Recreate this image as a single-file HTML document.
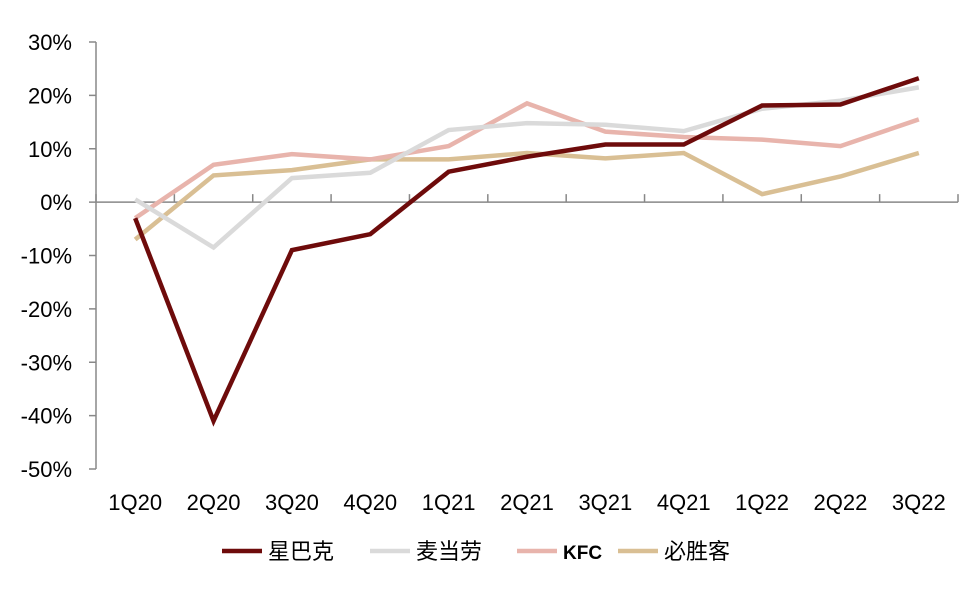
<!DOCTYPE html>
<html><head><meta charset="utf-8">
<style>
html,body{margin:0;padding:0;background:#fff;}
svg{display:block;font-family:"Liberation Sans","Noto Sans CJK SC",sans-serif;}
</style></head>
<body>
<svg id="chart" width="971" height="591" viewBox="0 0 971 591"></svg>
<script>
const categories=["1Q20","2Q20","3Q20","4Q20","1Q21","2Q21","3Q21","4Q21","1Q22","2Q22","3Q22"];
const starbucks=[-3,-41,-9,-6,5.7,8.5,10.8,10.8,18.1,18.3,23.2];
const mcdonalds=[0.5,-8.5,4.5,5.5,13.5,14.8,14.5,13.3,17.5,19,21.5];
const kfc=[-3,7,9,8,10.5,18.5,13.2,12.2,11.7,10.5,15.5];
const pizzahut=[-7,5,6,8,8,9.2,8.2,9.2,1.5,4.8,9.2];
const yTicks=[30,20,10,0,-10,-20,-30,-40,-50];
const seriesNames=["星巴克","麦当劳","KFC","必胜客"];

const NS="http://www.w3.org/2000/svg";
const svgEl=document.getElementById('chart');
const plotL=96,plotR=958,plotT=42,plotB=469;
const yMin=-50,yMax=30;
function yPos(v){return plotB-(v-yMin)/(yMax-yMin)*(plotB-plotT);}
const step=(plotR-plotL)/categories.length;
function xPos(i){return plotL+step*(i+0.5);}
function mk(tag,attrs){const e=document.createElementNS(NS,tag);for(const k in attrs)e.setAttribute(k,attrs[k]);svgEl.appendChild(e);return e;}

let ax=mk('line',{x1:plotL,y1:plotT,x2:plotL,y2:plotB,stroke:'#888','stroke-width':1.5});


yTicks.forEach(t=>{
  const tk=mk('line',{x1:plotL-7,y1:yPos(t),x2:plotL,y2:yPos(t),stroke:'#888','stroke-width':1.5});
  
  
  const tx=mk('text',{x:72,y:yPos(t)+8,'text-anchor':'end','font-size':22,fill:'#000'});
  tx.textContent=t+'%';
  
  
});
let xa=mk('line',{x1:plotL,y1:yPos(0),x2:plotR,y2:yPos(0),stroke:'#888','stroke-width':1.5});


for(let i=0;i<=categories.length;i++){
  const tk=mk('line',{x1:plotL+step*i,y1:yPos(0)-8,x2:plotL+step*i,y2:yPos(0),stroke:'#888','stroke-width':1.5});
  
  
}
categories.forEach((c,i)=>{
  const tx=mk('text',{x:xPos(i),y:510,'text-anchor':'middle','font-size':22,fill:'#000'});
  tx.textContent=c;
  
  
});
const series=[[pizzahut,'#d9bf94','pizzahut-line'],[kfc,'#e8b4ac','kfc-line'],[mcdonalds,'#dadada','mcdonalds-line'],[starbucks,'#6e0b0b','starbucks-line']];
series.forEach(s=>{
  const pts=s[0].map((v,i)=>xPos(i)+','+yPos(v)).join(' ');
  const p=mk('polyline',{points:pts,fill:'none',stroke:s[1],'stroke-width':4.5});
  
  
});
const legCols=['#6e0b0b','#dadada','#e8b4ac','#d9bf94'];
const legX=[222,370,517,618];
seriesNames.forEach((n,i)=>{
  const g=document.createElementNS(NS,'g');svgEl.appendChild(g);
  
  
  const l=document.createElementNS(NS,'line');
  l.setAttribute('x1',legX[i]);l.setAttribute('x2',legX[i]+40);l.setAttribute('y1',551);l.setAttribute('y2',551);
  l.setAttribute('stroke',legCols[i]);l.setAttribute('stroke-width',4.5);
  g.appendChild(l);
  const t=document.createElementNS(NS,'text');
  t.setAttribute('x',legX[i]+46);t.setAttribute('y',559);t.setAttribute('font-size',22);
  if(n==='KFC'){t.setAttribute('font-weight','bold');t.setAttribute('font-size',19);}
  t.textContent=n;g.appendChild(t);
});
</script>
</body></html>
